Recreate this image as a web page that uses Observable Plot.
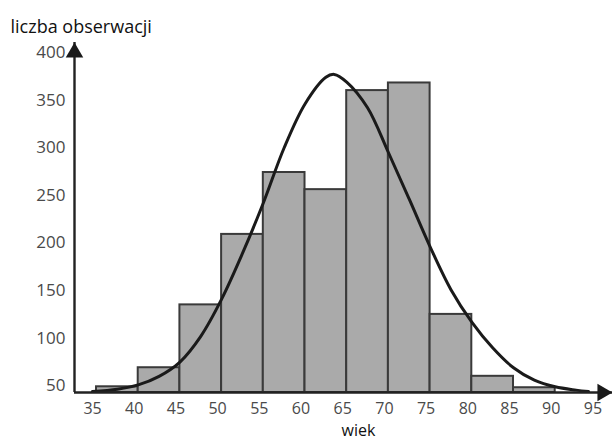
<!DOCTYPE html>
<html>
<head>
<meta charset="utf-8">
<script src="https://cdn.jsdelivr.net/npm/d3@7"></script>
<script src="https://cdn.jsdelivr.net/npm/@observablehq/plot@0.6"></script>
<style>
  html, body { margin: 0; padding: 0; background: #fff; }
</style>
</head>
<body>
<div id="chart"></div>
<script>
// ---- data ----
const binStart = [35, 40, 45, 50, 55, 60, 65, 70, 75, 80, 85];
const binEnd   = [40, 45, 50, 55, 60, 65, 70, 75, 80, 85, 90];
const counts   = [49, 69, 135, 209, 274, 256, 360, 368, 125, 60, 48];

const curveAge   = [34.5, 37.5, 40, 42.5, 45, 47.5, 50, 52.5, 55, 57.5, 60, 62.5, 63.5, 65, 67.5, 70, 72.5, 75, 77.5, 80, 82.5, 85, 87.5, 90, 92.5, 94];
const curveValue = [44, 46.5, 51, 60, 75, 102, 141, 189, 242, 300, 346, 374, 377, 369, 342, 295, 246, 196, 151, 117, 90, 69, 56, 49, 45.5, 44];

const xTicks = [35, 40, 45, 50, 55, 60, 65, 70, 75, 80, 85, 90, 95];
const yTicks = [50, 100, 150, 200, 250, 300, 350, 400];

const xDomain = [32.36, 96.87];
const yDomain = [43, 410.5];

const yTitle = "liczba obserwacji";
const xTitle = "wiek";

// ---- tables built from the arrays ----
const bars = binStart.map((s, i) => ({x1: s, x2: binEnd[i], y: counts[i]}));
const curve = curveAge.map((a, i) => ({x: a, y: curveValue[i]}));

const chart = Plot.plot({
  width: 612,
  height: 440,
  marginLeft: 74,
  marginRight: 0,
  marginTop: 42,
  marginBottom: 48,
  style: {fontFamily: "'Open Sans', sans-serif", fontSize: "17px", color: "#4a4a4a", background: "#fff"},
  x: {domain: xDomain},
  y: {domain: yDomain},
  marks: [
    Plot.rect(bars, {x1: "x1", x2: "x2", y1: yDomain[0], y2: "y", fill: "#aaaaaa", stroke: "#3a3a3a", strokeWidth: 2}),
    Plot.line(curve, {x: "x", y: "y", stroke: "#1a1a1a", strokeWidth: 3, curve: "catmull-rom"}),
    Plot.ruleX([xDomain[0]], {y1: yDomain[0], y2: yDomain[1], stroke: "#222", strokeWidth: 2.4}),
    Plot.ruleY([yDomain[0]], {x1: xDomain[0], x2: xDomain[1], stroke: "#222", strokeWidth: 2.4}),
    Plot.dot([[xDomain[0], yDomain[1]]], {x: d => d[0], y: d => d[1], symbol: "triangle", r: 6.5, fill: "#1a1a1a", stroke: null, dy: 10}),
    Plot.dot([[xDomain[1], yDomain[0]]], {x: d => d[0], y: d => d[1], symbol: "triangle", r: 6.5, fill: "#1a1a1a", stroke: null, rotate: 90, dx: -10}),
    Plot.axisY({ticks: yTicks, tickSize: 0, tickPadding: 9, label: null, tickFormat: d => String(d)}),
    Plot.axisX({ticks: xTicks, tickSize: 0, tickPadding: 10, label: null, dx: -4, fontSize: 16, tickFormat: d => String(d)}),
    Plot.text([yTitle], {frameAnchor: "top-left", text: d => d, textAnchor: "start", lineAnchor: "middle", dx: -64, dy: -15, fontSize: 18, fontWeight: 500, fill: "#111"}),
    Plot.text([xTitle], {frameAnchor: "bottom", text: d => d, textAnchor: "middle", lineAnchor: "middle", dx: 15, dy: 38.4, fontSize: 16, fontWeight: 500, fill: "#111"})
  ]
});
document.getElementById("chart").appendChild(chart);
</script>
</body>
</html>
